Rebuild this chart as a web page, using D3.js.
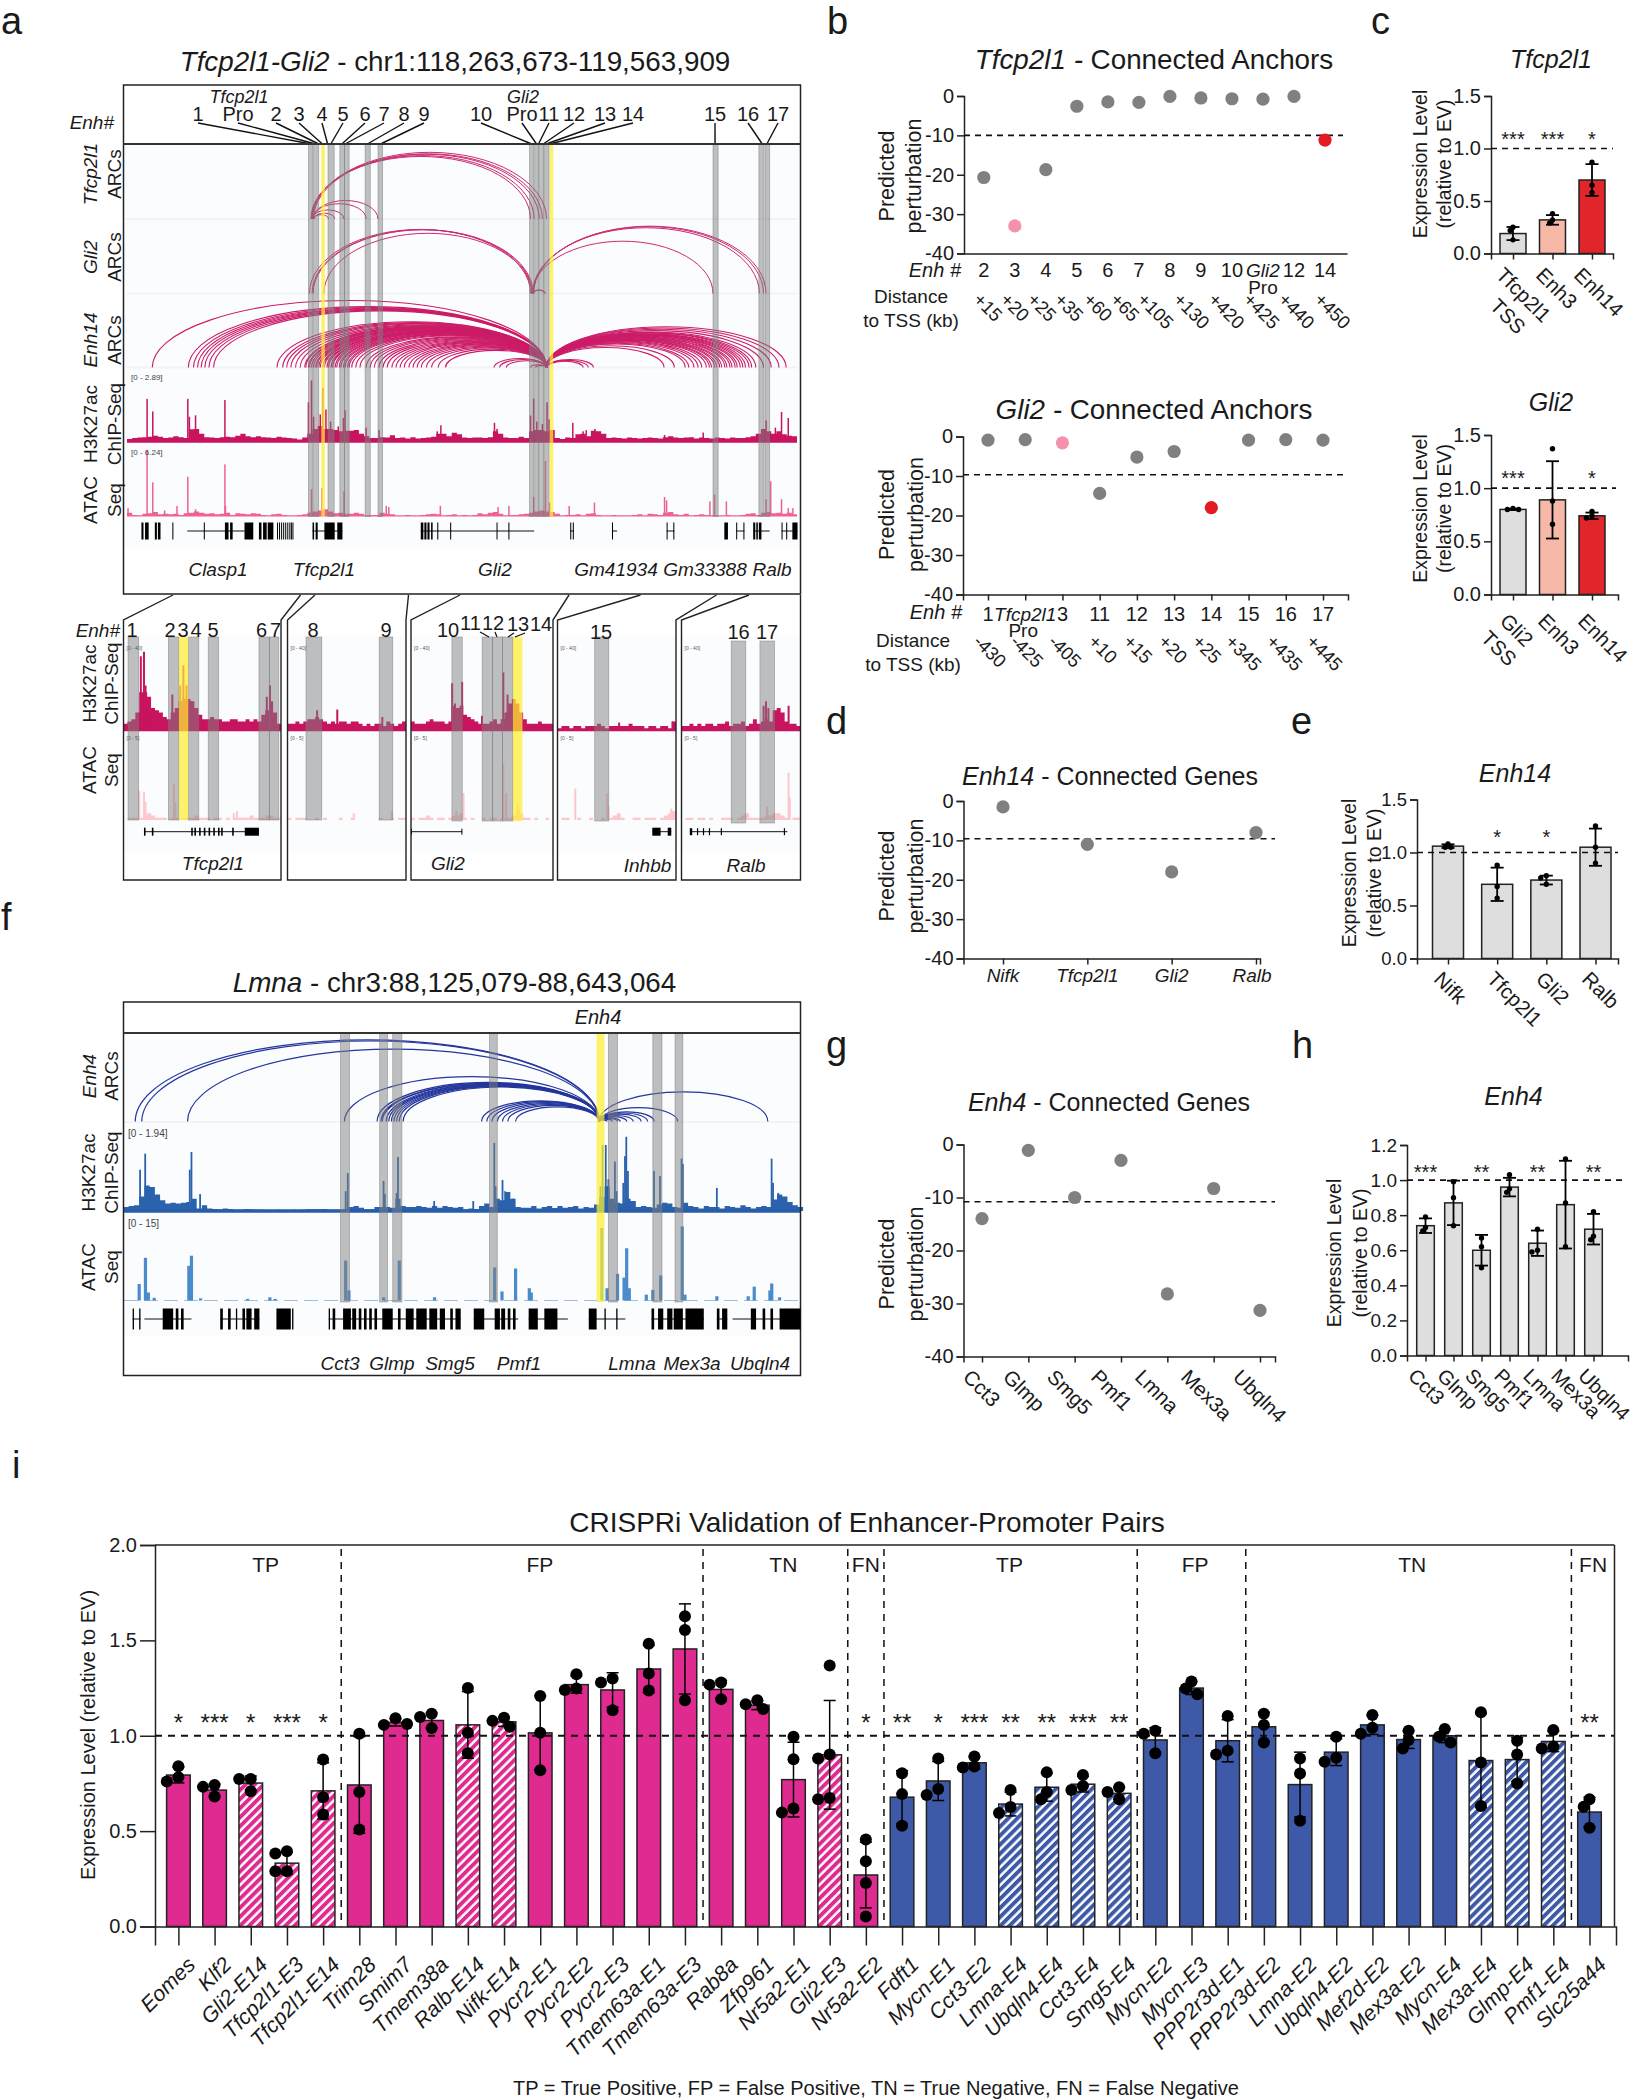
<!DOCTYPE html>
<html>
<head>
<meta charset="utf-8">
<script src="https://cdn.jsdelivr.net/npm/d3@7"></script>
<style>
  body { margin: 0; background: #fff; }
  svg { display: block; }
</style>
</head>
<body>
<div id="fig"></div>
<script>
const WIDTH = 1633, HEIGHT = 2100;
const FONT = '"Liberation Sans", Arial, sans-serif';
const INK = "#222";
const MAGENTA = "#df2a90", BLUE = "#3e59a7", CRIMSON = "#c8145f", ROSE = "#ee6292";
const NAVY = "#24359c", TRACK_BLUE = "#2a62ad", ATAC_BLUE = "#4a8bcb";

// ---------- panel a, genome window in kb from the window start
const aBandsGrey = [[352,360],[362,372],[390,402],[413,422],[422,431],[462,472],[487,496],[781,789],[791,798],[799,808],[809,819],[1137,1147],[1226,1236],[1238,1247]];
const aBandsYellow = [[377,384],[820,827]];
const aEnhNames = ["1","Pro","2","3","4","5","6","7","8","9","10","Pro","11","12","13","14","15","16","17"];
const aEnhLabelX = [198,238,276,299,322,343,365,384,404,424,481,522,549,574,605,633,715,748,778];
const aEnhAnchorKb = [352,362,370,378,389,396,418,425,468,494,783,794,799,809,816,824,1141,1232,1242];

const tfcpArcs = [[357,783],[358,790],[359,800],[362,806],[360,814],[359,421],[360,464],[361,487],[362,391],[363,403]];
const gli2Arcs = [[354,783],[359,786],[361,788],[382,785],[787,1137],[787,1227],[788,1235],[789,1240],[787,810],[789,812]];
const enh14Left = [49,119,129,137,144,151,159,168,291,302,310,318,327,336,347,354,362,368,375,383,391,399,407,415,423,431,345,352,358,366,372,380,388,396,404,412,420,428,436,444,452,464,472,480,489,497,505,514,522,530,538,547,555,563,571,581,591,604,618,712,723,736,783,793];
const enh14Right = [885,895,905,1042,1062,1083,1108,1124,1134,1144,1154,1164,1174,1184,1195,1207,1220,1235,1250,1265,1279,1090,1100,1115,1130,1140,1150,1160,1170,1180,1190,1200,1212];

const aH3Bins = [.08,.12,.14,.16,.18,.22,.18,.12,.14,.2,.16,.12,.48,.5,.3,.16,.14,.12,.16,.18,.16,.22,.3,.2,.15,.2,.16,.14,.12,.18,.14,.12,.1,.06,.14,.3,.5,.62,.5,.5,.45,.4,.42,.42,.45,.3,.2,.12,.12,.15,.14,.24,.12,.14,.1,.15,.1,.12,.14,.18,.3,.3,.2,.34,.28,.14,.12,.14,.14,.12,.16,.4,.3,.14,.12,.12,.18,.12,.4,.45,.45,.4,.45,.12,.08,.14,.12,.28,.3,.2,.42,.4,.3,.12,.14,.12,.1,.14,.12,.1,.12,.14,.12,.1,.16,.2,.14,.12,.14,.16,.1,.14,.12,.1,.14,.12,.1,.14,.12,.12,.16,.2,.3,.5,.4,.3,.4,.28,.22,.2];
const aH3Spikes = [[39,1.74],[50,1.22],[118,1.74],[121,1],[133,1.06],[190,1.69],[352,1.6],[358,2.5],[362,1],[375,1.1],[380,2.2],[386,1.3],[395,.8],[410,.6],[420,.95],[423,1.27],[464,.55],[489,.45],[602,.4],[609,.65],[713,.75],[718,.5],[783,1.05],[789,1.75],[795,.8],[806,.7],[815,1.6],[819,.9],[865,.75],[885,.4],[891,.45],[908,.5],[1043,.25],[1118,.35],[1232,.45],[1240,.85],[1258,.55],[1270,1.2],[1283,.95]];
const aAtacBins = [.3,.1,.05,.2,.25,.35,.15,.2,.15,.2,.1,.25,.3,.4,.3,.2,.25,.15,.2,.3,.1,.25,.2,.15,.25,.2,.1,.05,.15,.2,.1,.05,.05,.1,.15,.3,.4,.5,.6,.4,.25,.3,.2,.2,.3,.2,.05,.1,.1,.3,.2,.15,.05,.05,.1,.05,.05,.1,.15,.2,.15,.05,.1,.15,.05,.1,.05,.1,.25,.15,.3,.35,.2,.05,.1,.1,.15,.2,.3,.4,.5,.4,.35,.2,.05,.1,.1,.15,.05,.2,.25,.1,.05,.05,.1,.05,.05,.05,.1,.15,.05,.2,.15,.1,.3,.35,.15,.1,.2,.05,.1,.15,.1,.05,.05,.05,.1,.05,.05,.1,.2,.25,.1,.3,.35,.25,.3,.2,.3,.15];
const aAtacSpikes = [[2,.7],[39,5.9],[50,3],[73,.5],[97,.9],[118,3.5],[133,.6],[190,4.6],[191,.9],[358,2.4],[378,2.5],[421,2.2],[503,.9],[508,.8],[608,.9],[720,.8],[741,.9],[789,1.7],[812,4.9],[820,1.2],[858,.9],[907,1.2],[1043,1.7],[1047,1.4],[1131,1.3],[1140,1.9],[1163,1.3],[1240,1.5],[1249,3.1],[1270,1.5],[1283,.7],[1292,.7]];
const aGeneLines = [[117,228],[360,418],[570,790],[860,867],[941,951],[1047,1062],[1182,1198],[1215,1247],[1270,1301]];
const aGeneExons = [[28,32],[35,42],[54,58],[60,65],[88,90],[149,151],[190,197],[200,205],[228,245],[256,261],[264,271],[273,284],[291,292],[295,296],[299,300],[303,304],[307,308],[311,312],[315,316],[318,319],[321,322],[360,363],[366,370],[383,403],[408,418],[570,575],[577,581],[583,587],[590,593],[602,604],[627,629],[717,718],[740,742],[860,862],[865,867],[941,943],[1047,1048],[1060,1062],[1159,1166],[1182,1183],[1196,1198],[1215,1219],[1221,1224],[1226,1231],[1270,1272],[1279,1281],[1291,1301]];
const aGeneNames = ["Clasp1","Tfcp2l1","Gli2","Gm41934","Gm33388","Ralb"];
const aGeneNameX = [218,324,495,616,705,772];

// ---------- panel a zoomed windows, positions in percent of each window
const subH3Bins = [
  [3,4,5,8,17,17,15,10,9,8,6,5,8,10,13,14,14,13,10,7,5,5,6,5,5,4,4,5,5,4,4,5,4,5,4,7,9,13,8,3],
  [3,3,4,3,4,5,5,6,5,4,3,4,3,4,4,3,4,4,3,2,3,2,3,3,2,4,3,2,3,4],
  [4,3,3,3,4,5,4,4,4,3,4,11,10,11,7,6,5,4,3,3,3,4,5,3,5,8,12,14,12,8,5,3,3,3,4,3,3,3],
  [1,2,2,1,2,2,1,2,2,2,3,2,1,2,2,2,2,2,3,2,2,2,1,2,2,1,2,2,1,4],
  [2,2,3,2,3,2,3,3,2,3,3,4,2,3,3,4,2,3,5,3,4,5,4,9,10,8,4,3,3,2]];
const subH3Spikes = [
  [[11,33],[13,35],[14,20],[31,16],[36,20],[38,29],[40,20],[43,13],[91,15],[93,20]],
  [[25,9],[42,9.3],[80,6]],
  [[29,21],[31,12],[36,21.6],[50,6.5],[65,25.8],[68,16],[74,10.6]],
  [[52,3.5],[97,4]],
  [[69,11],[71,13],[73,10],[90,11]]];
const subAtacBins = [
  [0,1,1,1,1,2,3,2,1,1,1,0,1,1,0,1,1,1,2,1,1,1,0,1,1,0,1,0,1,1,1,1,2,1,1,1,2,2,1,1],
  [1,0,1,1,1,0,0,1,0,1,0,0,0,1,0,0,1,0,0,0,0,0,0,1,0,0,1,0,1,1],
  [1,0,1,1,2,1,0,1,1,0,1,2,2,3,1,0,1,0,0,1,0,1,1,0,1,1,1,2,3,3,1,1,0,1,0,0,1,0],
  [0,1,1,0,0,1,0,0,1,0,0,1,0,1,2,3,1,0,0,1,1,0,1,1,1,0,1,2,3,4],
  [0,1,1,0,1,1,0,1,0,0,1,1,1,0,1,2,3,1,1,1,1,2,2,3,3,2,1,0,1,1]];
const subAtacSpikes = [
  [[10,13],[13,12.5],[14,8],[32,16],[33,8],[70,3],[72,4]],
  [[56,3],[88,4]],
  [[32,4],[37,12],[65,25],[67,12],[75,7],[76,5]],
  [[15,14],[42,12],[43,6],[96,5],[98,4]],
  [[72,6],[90,21],[91,10]]];
const subBandsGrey = [
  [[2.9,9.6],[28.5,35.2],[41.1,47.8],[53.8,60.4],[86,92.6],[92.6,98.6]],
  [[15.6,28.9],[77.4,88.8]],
  [[28.8,36.1],[50.1,57.5],[57.5,64.5],[64.5,71.8]],
  [[31.4,43.3]],
  [[41.8,54],[65.9,78.2]]];
const subBandsYellow = [[[35.2,41.1]], [], [[71.8,78.5]], [], []];
const subGeneLines = [[[13,86]], [], [[0,36]], [[80,96]], [[7,89]]];
const subGeneExons = [
  [[13,14],[18,19],[43,44],[45,46],[48,49],[51,52],[54,55],[57,58],[60,61],[62,63],[69,70],[77,86]],
  [],
  [[0,.6],[35.5,36]],
  [[80,87],[93,96]],
  [[7,9],[13,14],[18,19],[23,24],[33,34],[86,87]]];

// ---------- panel f, genome window in kb from the window start
const fBandsGrey = [[166,173],[196,202],[206,213],[280,286],[371,378],[405,412],[422,428]];
const fBandsYellow = [[362,368]];
const fArcLeft = [9,14,49,169,194,197,201,205,209,214,198,203,207,211,274,278,282,286,290,294,300];
const fArcRight = [370,374,378,380,385,390,396,401,406,424,493];
const fH3Bins = [.1,.12,.14,.35,.62,.58,.4,.26,.18,.2,.18,.2,.22,.3,.06,.14,.06,.05,.04,.06,.05,.03,.03,.05,.04,.03,.03,.02,.02,.03,.02,.02,.03,.02,.03,.04,.04,.04,.05,.03,.03,.03,.05,.1,.12,.08,.04,.04,.1,.1,.1,.08,.3,.12,.1,.1,.12,.1,.08,.12,.08,.12,.1,.08,.1,.04,.06,.05,.12,.18,.1,.3,.26,.46,.3,.1,.08,.08,.12,.06,.1,.12,.07,.12,.08,.1,.12,.06,.1,.08,.16,.34,.6,.3,.2,.18,.3,.24,.1,.12,.1,.08,.16,.2,.18,.1,.08,.2,.12,.1,.06,.12,.1,.1,.06,.12,.1,.08,.14,.1,.06,.1,.12,.1,.28,.4,.35,.22,.14,.1];
const fH3Spikes = [[12.7,1],[16.6,1.39],[50.7,1],[52,1.43],[58.6,.41],[170,.48],[171.6,.92],[199,.73],[200,.41],[209,.44],[210,1.31],[237.7,.24],[267.6,.24],[283.7,1.65],[284.7,.6],[290,.75],[292,.48],[298,.3],[365,.6],[366.6,1.6],[369,1.6],[371,.77],[376,1.2],[377.3,.48],[382.4,.68],[383.7,1.33],[384.7,1.8],[386,.97],[405.9,.97],[410.5,.85],[427,1.27],[428,1.14],[454,.56],[495.9,1.27],[497,.68],[501,.44],[503.5,.36]];
const fAtacSpikes = [[12,3.1],[16.8,8],[19,1.5],[23.5,.5],[50,6.5],[52,8.4],[59,.4],[95,.3],[112,.6],[116,.3],[170,7.5],[172.5,1.9],[199,.6],[211,7.5],[238,.6],[284,6.2],[289.6,1.7],[300,6],[310.5,2.3],[312,1.5],[366,13.6],[370,2.3],[378,5],[383,4.3],[385,9.8],[387,2.3],[400,1.1],[405,2],[411,4.7],[427.5,13.9],[429.6,1.1],[454,.8],[478,.8],[482.6,2.6],[494.6,1.9],[496,3.2],[502,.6]];
const fGeneLines = [[7,13],[16,52],[74,104],[157,258],[268,302],[310,340],[356,384],[404,444],[454,462],[466,518]];
const fGeneExons = [[7,8],[12,13],[30,38],[40,42],[44,46],[74,76],[80,82],[86,87],[91,93],[94,98],[100,104],[117,128],[129,130],[157,158],[160,162],[168,174],[175,178],[180,182],[184,186],[188,190],[192,194],[198,206],[210,212],[216,222],[224,232],[234,240],[242,246],[250,252],[254,258],[268,276],[284,288],[289,292],[294,296],[298,300],[310,317],[322,332],[356,362],[368,369],[377,378],[404,406],[409,413],[416,420],[421,428],[430,444],[454,456],[458,462],[480,484],[489,491],[495,497],[502,518]];
const fGeneNames = ["Cct3","Glmp","Smg5","Pmf1","Lmna","Mex3a","Ubqln4"];
const fGeneNameX = [340,392,450,519,632,692,760];

// ---------- panels b, c, d, e, g, h
const tfcpEnh = ["2","3","4","5","6","7","8","9","10","Gli2","12","14"];
const tfcpPert = [-20.7,-33,-18.7,-2.6,-1.5,-1.6,-.1,-.5,-.7,-.8,-.1,-11.2];
const tfcpDist = ["+15","+20","+25","+35","+60","+65","+105","+130","+420","+425","+440","+450"];
const tfcpDistX = [977,1004,1031,1058,1087,1114,1141,1177,1212,1247,1282,1318];
const gli2Enh = ["1","Tfcp2l1","3","11","12","13","14","15","16","17"];
const gli2Pert = [-.9,-.8,-1.6,-14.4,-5.2,-3.8,-18,-.9,-.8,-.9];
const gli2Dist = ["-430","-425","-405","+10","+15","+20","+25","+345","+435","+445"];
const gli2DistX = [977,1014,1052,1092,1127,1162,1196,1229,1270,1310];

const cTfcpNames = ["Tfcp2l1","Enh3","Enh14"];
const cTfcpVals = [.19,.32,.70];
const cTfcpPts = [[.25,.22,.13],[.38,.32,.29],[.87,.65,.58]];
const cTfcpStars = ["***","***","*"];
const cGliNames = ["Gli2","Enh3","Enh14"];
const cGliVals = [.80,.89,.74];
const cGliPts = [[.81,.80,.80],[1.37,.88,.66],[.78,.74,.72]];
const cGliStars = ["***","","*"];

const dGenes = ["Nifk","Tfcp2l1","Gli2","Ralb"];
const dPert = [-1.5,-11,-18,-8];
const eVals = [1.06,.70,.74,1.05];
const ePts = [[1.08,1.05,1.05],[.88,.68,.57],[.78,.76,.70],[1.25,1.05,.90]];
const eStars = ["","*","*",""];

const gGenes = ["Cct3","Glmp","Smg5","Pmf1","Lmna","Mex3a","Ubqln4"];
const gPert = [-14,-1.1,-10,-3,-28.2,-8.3,-31.3];
const hVals = [.74,.87,.60,.96,.64,.86,.72];
const hPts = [[.79,.73,.71],[.99,.90,.74],[.67,.62,.50],[1.03,.95,.93],[.72,.60,.59],[1.12,.87,.62],[.82,.68,.66]];
const hStars = ["***","","**","","**","","**"];

// ---------- panel i
const iNames = ["Eomes","Klf2","Gli2-E14","Tfcp2l1-E3","Tfcp2l1-E14","Trim28","Smim7","Tmem38a","Ralb-E14","Nifk-E14","Pycr2-E1","Pycr2-E2","Pycr2-E3","Tmem63a-E1","Tmem63a-E3","Rab8a","Zfp961","Nr5a2-E1","Gli2-E3","Nr5a2-E2","Fdft1","Mycn-E1","Cct3-E2","Lmna-E4","Ubqln4-E4","Cct3-E4","Smg5-E4","Mycn-E2","Mycn-E3","PPP2r3d-E1","PPP2r3d-E2","Lmna-E2","Ubqln4-E2","Mef2d-E2","Mex3a-E2","Mycn-E4","Mex3a-E4","Glmp-E4","Pmf1-E4","Slc25a44"];
const iVals = [.794,.715,.752,.332,.711,.742,1.07,1.08,1.057,1.073,1.015,1.268,1.24,1.35,1.455,1.243,1.16,.77,.90,.27,.678,.763,.858,.642,.73,.746,.698,.978,1.25,.974,1.047,.744,.914,1.057,.98,1.0,.87,.875,.97,.60];
const iPts = [[.84,.783,.76],[.742,.732,.682],[.773,.773,.709],[.394,.383,.29,.29],[.875,.678,.587],[1.011,.705,.508],[1.092,1.057,1.061],[1.115,1.098,1.04],[1.25,1.016,.908],[1.094,1.078,1.047],[1.208,1.016,.819],[1.322,1.248,1.24],[1.30,1.279,1.134],[1.482,1.326,1.237],[1.627,1.554,1.186],[1.279,1.268,1.192],[1.186,1.165,1.14],[.995,.877,.618,.597],[1.368,.902,.881,.674,.667],[.456,.342,.228,.052],[.804,.694,.528],[.881,.721,.69],[.891,.839,.833],[.715,.626,.595],[.808,.705,.667],[.794,.736,.715],[.73,.705,.667],[1.026,1.011,.908],[1.285,1.248,1.217],[1.103,.922,.902],[1.115,1.057,.964],[.881,.802,.555],[.995,.885,.864],[1.109,1.042,1.011],[1.026,.978,.933],[1.036,.995,.964],[1.123,.86,.632],[.974,.902,.75],[1.03,.943,.933],[.667,.628,.518]];
const iStars = ["*","***","*","***","*","","","","","","","","","","","","","","","*","**","*","***","**","**","***","**","","","","","","","","","","","","","**"];
const iHatched = ["Gli2-E14","Tfcp2l1-E3","Tfcp2l1-E14","Ralb-E14","Nifk-E14","Gli2-E3","Lmna-E4","Ubqln4-E4","Cct3-E4","Smg5-E4","Mex3a-E4","Glmp-E4","Pmf1-E4"];
const iGroups = ["TP","FP","TN","FN","TP","FP","TN","FN"];
const iGroupCounts = [5,10,4,1,7,3,9,1];
const iGroupLabelAt = [2.41,9.99,16.72,19,22.97,28.1,34.1,39.1];

// ---------- helpers
const svg = d3.select("#fig").append("svg").attr("width", WIDTH).attr("height", HEIGHT)
  .attr("font-family", FONT).attr("fill", "#1a1a1a");

const defs = svg.append("defs");
[["hatchMagenta", MAGENTA], ["hatchBlue", BLUE]].forEach(([id, c]) => {
  const p = defs.append("pattern").attr("id", id).attr("patternUnits", "userSpaceOnUse")
    .attr("width", 6.4).attr("height", 6.4).attr("patternTransform", "rotate(45)");
  p.append("rect").attr("width", 6.4).attr("height", 6.4).attr("fill", "#fff");
  p.append("rect").attr("width", 3.9).attr("height", 6.4).attr("fill", c);
});

// y is the vertical centre of the text, pieces may be [string, italic]
function label(x, y, str, o = {}) {
  const size = o.size || 19;
  const t = svg.append("text").attr("x", x).attr("y", y).attr("dy", o.dy || ".36em")
    .attr("font-size", size).attr("text-anchor", o.anchor || "middle");
  if (o.rotate) t.attr("transform", `rotate(${o.rotate},${x},${y})`);
  if (o.fill) t.attr("fill", o.fill);
  const pieces = Array.isArray(str) ? str : [[str, o.italic]];
  pieces.forEach(([s, it]) => t.append("tspan").text(s).attr("font-style", it ? "italic" : "normal"));
  return t;
}
const panelLetter = (x, y, s) => svg.append("text").attr("x", x).attr("y", y).attr("font-size", 38).text(s);

function segment(x1, y1, x2, y2, w = 1.5, color = INK, dash = null) {
  return svg.append("line").attr("x1", x1).attr("y1", y1).attr("x2", x2).attr("y2", y2)
    .attr("stroke", color).attr("stroke-width", w).attr("stroke-dasharray", dash);
}

function drawArcs(pairs, x, base, ratio, color, w = 1) {
  svg.append("g").selectAll("path").data(pairs).join("path")
    .attr("fill", "none").attr("stroke", color).attr("stroke-width", w)
    .attr("d", d => {
      const a = x(d[0]), b = x(d[1]), rx = (b - a) / 2;
      return `M${a},${base}A${rx},${rx * 2 * ratio} 0 0 1 ${b},${base}`;
    });
}

function drawSignal(x, y, bins, binW, spikes, color, spikeW = 1.5) {
  const g = svg.append("g");
  if (bins) {
    const area = d3.area().x((d, i) => x(i * binW)).y0(y(0)).y1(d => y(d)).curve(d3.curveStepAfter);
    g.append("path").datum(bins.concat(bins[bins.length - 1])).attr("fill", color).attr("d", area);
  }
  g.selectAll("rect").data(spikes).join("rect")
    .attr("x", d => x(d[0]) - spikeW / 2).attr("width", spikeW)
    .attr("y", d => y(d[1])).attr("height", d => y(0) - y(d[1])).attr("fill", color);
}

function drawBands(bands, x, top, bottom, fill, op) {
  svg.append("g").selectAll("rect").data(bands).join("rect")
    .attr("x", d => x(d[0])).attr("width", d => x(d[1]) - x(d[0]))
    .attr("y", top).attr("height", bottom - top)
    .attr("fill", fill).attr("fill-opacity", op)
    .attr("stroke", "#777").attr("stroke-opacity", fill === "#ffee30" ? 0 : .55).attr("stroke-width", .8);
}

function drawGenes(lines, exons, x, cy, h) {
  const g = svg.append("g");
  g.selectAll("line").data(lines).join("line")
    .attr("x1", d => x(d[0])).attr("x2", d => x(d[1])).attr("y1", cy).attr("y2", cy)
    .attr("stroke", "#111").attr("stroke-width", 1);
  g.selectAll("rect").data(exons).join("rect")
    .attr("x", d => x(d[0])).attr("width", d => Math.max(1, x(d[1]) - x(d[0])))
    .attr("y", cy - h / 2).attr("height", h).attr("fill", "#000");
}

function styleAxis(g, size = 20, w = 1.5) {
  g.attr("font-family", FONT).attr("font-size", size);
  g.selectAll("path,line").attr("stroke", INK).attr("stroke-width", w);
  g.selectAll("text").attr("fill", "#1a1a1a");
}

// small horizontal spread of replicate dots so that they do not hide each other
function spread(values, y, r, step) {
  const placed = [];
  return values.map(v => {
    const py = y(v);
    const dx = [0, -step, step, -2 * step, 2 * step].find(c =>
      placed.every(p => Math.hypot(p[0] - c, p[1] - py) > r * 1.5));
    placed.push([dx === undefined ? 0 : dx, py]);
    return dx === undefined ? 0 : dx;
  });
}

function dotPlot(o) {
  const y = d3.scaleLinear().domain([0, -40]).range([o.top, o.bottom]);
  const x = d3.scalePoint().domain(o.names).range(o.xRange);
  const gy = svg.append("g").attr("transform", `translate(${o.axisX},0)`)
    .call(d3.axisLeft(y).tickValues([0, -10, -20, -30, -40]).tickSize(7).tickPadding(3).tickFormat(d => d));
  styleAxis(gy);
  const gx = svg.append("g").attr("transform", `translate(0,${o.bottom})`)
    .call(d3.axisBottom(d3.scaleLinear().domain(o.xEnd).range(o.xEnd)).tickValues(o.names.map(x)).tickSize(o.noTicks ? 0 : 6).tickFormat(""));
  styleAxis(gx);
  svg.append("line").attr("x1", o.axisX).attr("x2", o.dashEnd).attr("y1", y(o.cut)).attr("y2", y(o.cut))
    .attr("stroke", "#111").attr("stroke-width", 1.6).attr("stroke-dasharray", "6 5");
  svg.append("g").selectAll("circle").data(o.values).join("circle")
    .attr("cx", (d, i) => x(o.names[i])).attr("cy", d => y(d)).attr("r", 6.6)
    .attr("fill", (d, i) => o.color ? o.color(o.names[i]) : "#808080");
  return x;
}

function barPlot(o) {
  const y = d3.scaleLinear().domain([0, o.max]).range([o.bottom, o.top]);
  const x = d3.scalePoint().domain(o.names).range(o.xRange);
  const fmt = d3.format(".1f");
  const gy = svg.append("g").attr("transform", `translate(${o.axisX},0)`)
    .call(d3.axisLeft(y).tickValues(o.ticks).tickSize(7).tickPadding(3).tickFormat(fmt));
  styleAxis(gy, o.tickFont || 20);
  const gx = svg.append("g").attr("transform", `translate(0,${o.bottom})`)
    .call(d3.axisBottom(d3.scaleLinear().domain(o.xEnd).range(o.xEnd)).tickValues(o.names.map(x)).tickSize(6).tickFormat(""));
  styleAxis(gx);
  const g = svg.append("g");
  g.selectAll("rect").data(o.values).join("rect")
    .attr("x", (d, i) => x(o.names[i]) - o.barW / 2).attr("width", o.barW)
    .attr("y", d => y(d)).attr("height", d => o.bottom - y(d))
    .attr("fill", (d, i) => o.fills[i]).attr("stroke", INK).attr("stroke-width", 1.5);
  segment(o.axisX, y(1), o.dashEnd, y(1), 1.6, "#111", "6 5");
  o.names.forEach((n, i) => {
    const cx = x(n), sd = d3.deviation(o.points[i]), v = o.values[i];
    const cap = Math.min(6.5, o.barW / 2 - 1);
    segment(cx, y(v + sd), cx, y(v - sd), 1.8, "#000");
    segment(cx - cap, y(v + sd), cx + cap, y(v + sd), 1.8, "#000");
    segment(cx - cap, y(v - sd), cx + cap, y(v - sd), 1.8, "#000");
    const dx = spread(o.points[i], y, 2.7, 2.8);
    svg.append("g").selectAll("circle").data(o.points[i]).join("circle")
      .attr("cx", (d, j) => cx + dx[j]).attr("cy", d => y(d)).attr("r", 2.7).attr("fill", "#000");
    if (o.stars[i]) label(cx, o.starY, o.stars[i], { size: 20 });
  });
  return x;
}

function yTitle(x1, x2, cy, a, b, size) {
  label(x1, cy, a, { rotate: -90, size });
  label(x2, cy, b, { rotate: -90, size });
}
const rotLabels = (names, xs, y, size = 19, italic = false) =>
  names.forEach((n, i) => label(xs[i], y, n, { anchor: "start", rotate: 45, size, italic }));

// ---------- panel a
panelLetter(1, 34, "a");
label(455, 61, [["Tfcp2l1-Gli2", true], [" - chr1:118,263,673-119,563,909", false]], { size: 27.8 });

const aX = d3.scaleLinear().domain([0, 1300]).range([127, 797]);
svg.append("rect").attr("x", 123.5).attr("y", 144).attr("width", 677).attr("height", 404).attr("fill", "#fbfcfe");
[219, 293.5, 367.5].forEach(yy => segment(126, yy, 798, yy, 2, "#f1f3f6"));

const aH3Y = d3.scaleLinear().domain([0, 2.89]).range([441, 371]);
const aAtacY = d3.scaleLinear().domain([0, 6.24]).range([516, 446]);
drawSignal(aX, aH3Y, aH3Bins, 10, aH3Spikes, CRIMSON);
segment(127, 441.5, 797, 441.5, 2.6, CRIMSON);
drawSignal(aX, aAtacY, aAtacBins, 10, aAtacSpikes, ROSE);
segment(127, 516, 797, 516, 1, ROSE);
label(131, 377, "[0 - 2.89]", { anchor: "start", size: 8, fill: "#444" });
label(131, 452, "[0 - 6.24]", { anchor: "start", size: 8, fill: "#444" });

drawArcs(tfcpArcs, aX, 219, .285, "#cc2a72");
drawArcs(gli2Arcs, aX, 293.5, .29, "#cc2a72");
drawArcs(enh14Left.map(k => [k, 814]), aX, 367.5, .17, "#cc1c68", 1.1);
drawArcs(enh14Right.map(k => [814, k]), aX, 367.5, .17, "#cc1c68", 1.1);

drawBands(aBandsGrey, aX, 144, 516.5, "#808080", .5);
drawBands(aBandsYellow, aX, 144, 516.5, "#ffee30", .72);

aEnhNames.forEach((n, i) => {
  label(aEnhLabelX[i], 114, n, { size: 20 });
  segment(aEnhLabelX[i], 123, aX(aEnhAnchorKb[i]), 143.5, 1.4, "#111");
});
label(239, 96.5, "Tfcp2l1", { italic: true, size: 18 });
label(523, 96.5, "Gli2", { italic: true, size: 18 });
label(114, 122, "Enh#", { anchor: "end", italic: true, size: 19 });

svg.append("rect").attr("x", 123.5).attr("y", 85).attr("width", 677).attr("height", 509)
  .attr("fill", "none").attr("stroke", INK).attr("stroke-width", 1.5);
segment(123.5, 144, 800.5, 144, 2, "#333");
drawGenes(aGeneLines, aGeneExons, aX, 531, 17);
aGeneNames.forEach((n, i) => label(aGeneNameX[i], 569.5, n, { italic: true }));

yTitle(90, 114, 174, [["Tfcp2l1", true]], "ARCs");
yTitle(90, 114, 257, [["Gli2", true]], "ARCs");
yTitle(90, 114, 340, [["Enh14", true]], "ARCs");
yTitle(90, 114, 424, "H3K27ac", "ChIP-Seq");
yTitle(90, 114, 500, "ATAC", "Seq");

// zoomed windows under panel a
const subBoxes = [
  { l: 123.5, r: 281, tl: 173, tr: 300.5 },
  { l: 287.5, r: 406, tl: 315, tr: 408.5 },
  { l: 411, r: 553, tl: 460, tr: 569 },
  { l: 557.5, r: 676, tl: 640.5, tr: 716.5 },
  { l: 681.5, r: 800.5, tl: 749, tr: 800.5 }
];
const subBandTop = [637, 637, 637, 637, 641];
const subBandBottom = [820, 820, 821, 821, 823];
const subGeneH = [8, 0, 6, 8, 7];
const subGeneNames = [["Tfcp2l1",213,862.7],null,["Gli2",448,862.7],["Inhbb",647.5,865],["Ralb",746,865]];
const subEnhLabels = [["1",132,630],["2",170,630],["3",183,630],["4",196,630],["5",213,630],["6",261.5,630],["7",275.5,630],["8",313,630],["9",386,630],["10",448,630],["11",470.5,623],["12",493,623],["13",518,624],["14",541,624],["15",601,632],["16",738.5,632],["17",767,632]];

subBoxes.forEach((b, i) => {
  svg.append("rect").attr("x", b.l).attr("y", 636).attr("width", b.r - b.l).attr("height", 215).attr("fill", "#fbfcfe");
  const x = d3.scaleLinear().domain([0, 100]).range([b.l, b.r]);
  const h3Y = d3.scaleLinear().domain([0, 40]).range([730.5, 640.5]);
  const atacY = d3.scaleLinear().domain([0, 40]).range([820, 730]);
  drawSignal(x, atacY, subAtacBins[i], 100 / subAtacBins[i].length, subAtacSpikes[i], "#fcc8cc", 2);
  drawSignal(x, h3Y, subH3Bins[i], 100 / subH3Bins[i].length, subH3Spikes[i], CRIMSON, 2);
  segment(b.l, 730.5, b.r, 730.5, 1.5, CRIMSON);
  drawBands(subBandsGrey[i], x, subBandTop[i], subBandBottom[i], "#808080", .5);
  drawBands(subBandsYellow[i], x, subBandTop[i], subBandBottom[i], "#ffee30", .72);
  label(b.l + 3, 648, "[0 - 40]", { anchor: "start", size: 5, fill: "#555" });
  label(b.l + 3, 738, "[0 - 5]", { anchor: "start", size: 5, fill: "#555" });
  if (subGeneH[i]) drawGenes(subGeneLines[i], subGeneExons[i], x, 831.7, subGeneH[i]);
  const n = subGeneNames[i];
  if (n) label(n[1], n[2], n[0], { italic: true });
  // open topped frame running up to the parent box
  svg.append("path").attr("fill", "none").attr("stroke", INK).attr("stroke-width", 1.4)
    .attr("d", `M${b.tl},595L${b.l},620V880H${b.r}V620L${b.tr},595`);
});
subEnhLabels.forEach(d => label(d[1], d[2], d[0], { size: 20 }));
[[480,632,489,637],[495,632,497,637],[514,633,508,637],[525,633,515,637]].forEach(d => segment(d[0], d[1], d[2], d[3], 1.2, "#111"));
label(120, 630, "Enh#", { anchor: "end", italic: true });
yTitle(89, 111, 683.5, "H3K27ac", "ChIP-Seq");
yTitle(89, 111, 770, "ATAC", "Seq");

// ---------- panel f
panelLetter(1, 930, "f");
label(454.5, 981.5, [["Lmna", true], [" - chr3:88,125,079-88,643,064", false]], { size: 27.8 });

const fX = d3.scaleLinear().domain([0, 518]).range([123.5, 800.5]);
svg.append("rect").attr("x", 123.5).attr("y", 1033).attr("width", 677).attr("height", 303).attr("fill", "#fbfcfe");
segment(124, 1122, 800, 1122, 2, "#f1f3f6");

const fH3Y = d3.scaleLinear().domain([0, 1.94]).range([1211, 1131]);
const fAtacY = d3.scaleLinear().domain([0, 15]).range([1300.5, 1220.5]);
drawSignal(fX, fH3Y, fH3Bins, 4, fH3Spikes, TRACK_BLUE, 1.8);
segment(124, 1211, 800, 1211, 3.4, "#2a5da8");
segment(124, 1300.5, 800, 1300.5, 1, "#9cc0e4", "14 6");
drawSignal(fX, fAtacY, null, 0, fAtacSpikes, ATAC_BLUE, 3.2);
label(128, 1133, "[0 - 1.94]", { anchor: "start", size: 10, fill: "#444" });
label(128, 1223, "[0 - 15]", { anchor: "start", size: 10, fill: "#444" });

drawArcs(fArcLeft.map(k => [k, 364]), fX, 1121.5, .176, NAVY, 1.2);
drawArcs(fArcRight.map(k => [364, k]), fX, 1121.5, .176, NAVY, 1.2);
drawBands(fBandsGrey, fX, 1033, 1302, "#808080", .5);
drawBands(fBandsYellow, fX, 1033, 1302, "#ffee30", .72);

svg.append("rect").attr("x", 123.5).attr("y", 1002).attr("width", 677).attr("height", 373.5)
  .attr("fill", "none").attr("stroke", INK).attr("stroke-width", 1.5);
segment(123.5, 1033, 800.5, 1033, 2, "#333");
label(598, 1017, "Enh4", { italic: true, size: 20 });
drawGenes(fGeneLines, fGeneExons, fX, 1319, 21);
fGeneNames.forEach((n, i) => label(fGeneNameX[i], 1363, n, { italic: true }));
yTitle(89, 111, 1076, [["Enh4", true]], "ARCs");
yTitle(88, 111, 1172.5, "H3K27ac", "ChIP-Seq");
yTitle(88, 111, 1267, "ATAC", "Seq");

// ---------- panel b
panelLetter(827, 34, "b");
label(1154, 59, [["Tfcp2l1 -", true], [" Connected Anchors", false]], { size: 27.8 });
const enhColor = n => n === "3" ? "#f592ab" : n === "14" ? "#e31b23" : "#808080";
const bTopX = dotPlot({ names: tfcpEnh, values: tfcpPert, xRange: [983.8, 1325], xEnd: [964, 1347],
  axisX: 964, top: 96, bottom: 253.5, cut: -10, dashEnd: 1343, color: enhColor, noTicks: true });
yTitle(886, 913, 176, "Predicted", "perturbation", 21.5);
label(961, 270, "Enh #", { anchor: "end", italic: true, size: 20 });
tfcpEnh.forEach(n => label(bTopX(n), 270, n, { italic: n === "Gli2", size: n === "Gli2" ? 19 : 20 }));
label(bTopX("Gli2"), 287, "Pro", { size: 19 });
label(911, 296, "Distance");
label(911, 320, "to TSS (kb)");
rotLabels(tfcpDist, tfcpDistX, 296, 18.5);

label(1154, 409, [["Gli2 -", true], [" Connected Anchors", false]], { size: 27.8 });
const bBotX = dotPlot({ names: gli2Enh, values: gli2Pert, xRange: [988, 1323], xEnd: [963, 1348],
  axisX: 963, top: 436.5, bottom: 594.5, cut: -9.7, dashEnd: 1345, color: enhColor });
yTitle(886, 915, 514.5, "Predicted", "perturbation", 21.5);
label(962, 611.5, "Enh #", { anchor: "end", italic: true, size: 20 });
gli2Enh.forEach(n => label(bBotX(n), 614, n, { italic: n === "Tfcp2l1", size: n === "Tfcp2l1" ? 19 : 20 }));
label(bBotX("Tfcp2l1") - 2, 630, "Pro", { size: 19 });
label(913, 640.5, "Distance");
label(913, 664, "to TSS (kb)");
rotLabels(gli2Dist, gli2DistX, 638, 18.5);

// ---------- panel c
panelLetter(1371, 34, "c");
label(1551, 59, "Tfcp2l1", { italic: true, size: 25 });
barPlot({ names: cTfcpNames, values: cTfcpVals, points: cTfcpPts, stars: cTfcpStars, fills: ["#dedede", "#f6b9a8", "#e0262b"],
  xRange: [1513, 1592], xEnd: [1491, 1613], axisX: 1491, top: 96, bottom: 253.5, max: 1.5, ticks: [0, .5, 1, 1.5],
  barW: 26, dashEnd: 1613, starY: 139 });
yTitle(1420, 1444, 164, "Expression Level", "(relative to EV)", 19.5);
rotLabels(["Tfcp2l1", "Enh3", "Enh14"], [1500, 1540, 1578], 271, 20.5);
label(1494, 302, "TSS", { anchor: "start", rotate: 45, size: 20.5 });

label(1551, 402, "Gli2", { italic: true, size: 25 });
barPlot({ names: cGliNames, values: cGliVals, points: cGliPts, stars: cGliStars, fills: ["#dedede", "#f6b9a8", "#e0262b"],
  xRange: [1513, 1592], xEnd: [1491, 1618], axisX: 1491, top: 435, bottom: 594.5, max: 1.5, ticks: [0, .5, 1, 1.5],
  barW: 26, dashEnd: 1616, starY: 478 });
yTitle(1420, 1444, 508.5, "Expression Level", "(relative to EV)", 19.5);
rotLabels(["Gli2", "Enh3", "Enh14"], [1504, 1542, 1582], 617, 20.5);
label(1485, 634, "TSS", { anchor: "start", rotate: 45, size: 20.5 });

// ---------- panel d
panelLetter(826, 734, "d");
label(1110, 776, [["Enh14", true], [" - Connected Genes", false]], { size: 25 });
const dX = dotPlot({ names: dGenes, values: dPert, xRange: [1003, 1256], xEnd: [963.5, 1260],
  axisX: 963.5, top: 801, bottom: 958.5, cut: -9.6, dashEnd: 1275 });
yTitle(886, 915, 876, "Predicted", "perturbation", 21.5);
dGenes.forEach(n => label(n === "Ralb" ? 1252 : dX(n), 975.5, n, { italic: true }));

// ---------- panel e
panelLetter(1291, 734, "e");
label(1515, 772.5, "Enh14", { italic: true, size: 25 });
barPlot({ names: dGenes, values: eVals, points: ePts, stars: eStars, fills: dGenes.map(() => "#dedede"),
  xRange: [1448, 1595.5], xEnd: [1417, 1618], axisX: 1417, top: 799.5, bottom: 958.5, max: 1.5, ticks: [0, .5, 1, 1.5],
  barW: 31, dashEnd: 1618, starY: 837, tickFont: 18.5 });
yTitle(1349, 1373.5, 873, "Expression Level", "(relative to EV)", 19.5);
rotLabels(dGenes, [1438, 1491, 1540, 1586], 975, 20.5);

// ---------- panel g
panelLetter(826, 1058, "g");
label(1109, 1102, [["Enh4", true], [" - Connected Genes", false]], { size: 25 });
dotPlot({ names: gGenes, values: gPert, xRange: [982, 1260], xEnd: [963.5, 1275],
  axisX: 963.5, top: 1144.5, bottom: 1356.5, cut: -10.8, dashEnd: 1275 });
yTitle(886, 915, 1264, "Predicted", "perturbation", 21.5);
rotLabels(gGenes, [967, 1007, 1051, 1095, 1139, 1185, 1237], 1373, 20.5);

// ---------- panel h
panelLetter(1292, 1058, "h");
label(1513.5, 1096, "Enh4", { italic: true, size: 25 });
barPlot({ names: gGenes, values: hVals, points: hPts, stars: hStars, fills: gGenes.map(() => "#dedede"),
  xRange: [1425.5, 1593.5], xEnd: [1407, 1628], axisX: 1407, top: 1145, bottom: 1355.5, max: 1.2, ticks: [0, .2, .4, .6, .8, 1, 1.2],
  barW: 17.6, dashEnd: 1626, starY: 1172, tickFont: 19 });
yTitle(1334, 1359.5, 1253, "Expression Level", "(relative to EV)", 19.5);
rotLabels(gGenes, [1412, 1441, 1469, 1498, 1527, 1555, 1582], 1372, 20);

// ---------- panel i
panelLetter(12, 1478, "i");
label(867, 1521.5, "CRISPRi Validation of Enhancer-Promoter Pairs", { size: 28 });
const iY = d3.scaleLinear().domain([0, 2]).range([1926.5, 1545]);
const iX = d3.scalePoint().domain(iNames).range([178.4, 1589.5]);
const iAt = i => iX(iNames[0]) + i * iX.step();

const iAxisY = svg.append("g").attr("transform", "translate(155,0)")
  .call(d3.axisLeft(iY).tickValues([0, .5, 1, 1.5, 2]).tickSize(15).tickPadding(3).tickFormat(d3.format(".1f")));
styleAxis(iAxisY);
const iAxisX = svg.append("g").attr("transform", "translate(0,1926.5)")
  .call(d3.axisBottom(d3.scaleLinear().domain([155, 1616]).range([155, 1616])).tickValues(iNames.map(iX)).tickSize(19).tickFormat(""));
styleAxis(iAxisX);
segment(155, 1545, 1614.5, 1545, 1.5, INK);
segment(1614.5, 1545, 1614.5, 1926.5, 1.5, INK);

svg.append("g").selectAll("rect").data(iVals).join("rect")
  .attr("x", (d, i) => iX(iNames[i]) - 11.8).attr("width", 23.6)
  .attr("y", d => iY(d)).attr("height", d => iY(0) - iY(d))
  .attr("fill", (d, i) => {
    const mag = i < 20;
    if (iHatched.includes(iNames[i])) return mag ? "url(#hatchMagenta)" : "url(#hatchBlue)";
    return mag ? MAGENTA : BLUE;
  })
  .attr("stroke", INK).attr("stroke-width", 1.5);

segment(155, iY(1), 1614, iY(1), 1.8, "#111", "7 6");
let run = 0;
iGroupCounts.forEach((c, i) => {
  run += c;
  if (i < iGroupCounts.length - 1) segment(iAt(run - .5), 1549, iAt(run - .5), 1926.5, 1.5, "#111", "7 6");
  label(iAt(iGroupLabelAt[i]), 1564, iGroups[i], { size: 21 });
});

iNames.forEach((n, i) => {
  const cx = iX(n), v = iVals[i], sd = d3.deviation(iPts[i]);
  segment(cx, iY(v + sd), cx, iY(v - sd), 1.5, "#000");
  segment(cx - 6, iY(v + sd), cx + 6, iY(v + sd), 1.5, "#000");
  segment(cx - 6, iY(v - sd), cx + 6, iY(v - sd), 1.5, "#000");
  const dx = spread(iPts[i], iY, 6, 5.8);
  svg.append("g").selectAll("circle").data(iPts[i]).join("circle")
    .attr("cx", (d, j) => cx + dx[j]).attr("cy", d => iY(d)).attr("r", 6).attr("fill", "#000");
  if (iStars[i]) label(cx, 1719, iStars[i], { size: 24, dy: ".5em" });
  label(cx + 9, 1957, n, { anchor: "end", rotate: -45, italic: true, size: 21.5, dy: ".6em" });
});
label(88, 1735, "Expression Level (relative to EV)", { rotate: -90, size: 20 });
label(876, 2087.5, "TP = True Positive, FP = False Positive, TN = True Negative, FN = False Negative", { size: 20 });
</script>
</body>
</html>
